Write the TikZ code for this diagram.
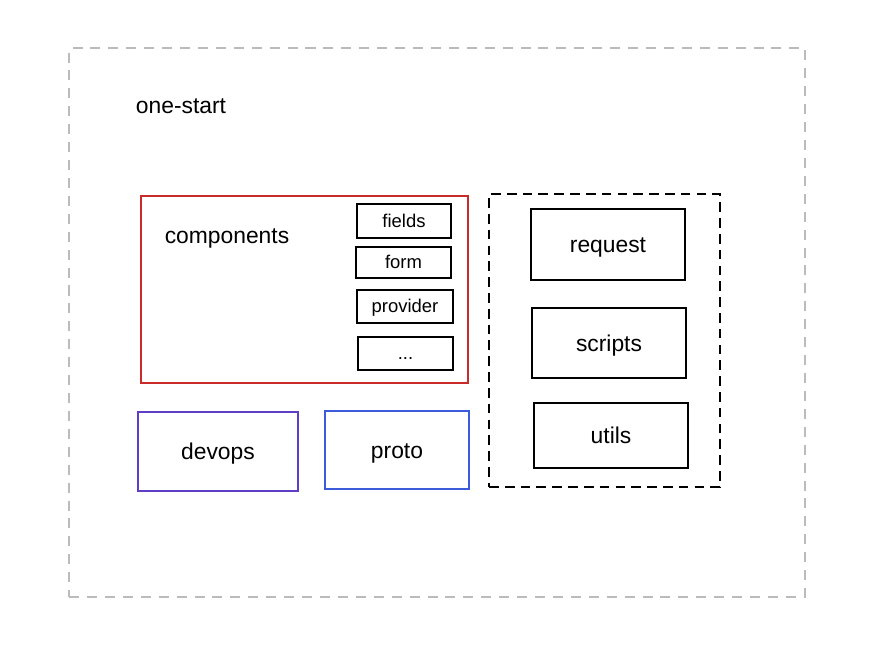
\documentclass[tikz,border=0pt]{standalone}
\usepackage{fontspec}
\setmainfont{Liberation Sans}
\usetikzlibrary{positioning}
\definecolor{mred}{HTML}{C92A2A}
\definecolor{mviolet}{HTML}{5F3DC4}
\definecolor{mblue}{HTML}{3B5BDB}
\definecolor{mgray}{HTML}{BBBBBB}
\tikzset{pkg/.style = {draw, line width=0.9pt, font=\fontsize{13}{15}\selectfont,
                       text height=2.2ex, text depth=0.45ex},
         sub/.style = {draw, line width=0.9pt, font=\fontsize{10.5}{12}\selectfont,
                       text height=1.6ex, text depth=0.3ex},
         grp/.style = {draw, line width=0.9pt, dash pattern=on 5.5pt off 3.5pt}}

\begin{document}
\begin{tikzpicture}[x=0.02cm, y=-0.02cm]
    \useasboundingbox (0, 0) rectangle (874, 648);

    \node [grp, mgray, minimum width=14.72cm, minimum height=10.98cm, dash pattern=on 5.7pt off 4.5pt] (root) at (437, 322.5) {};
    \node [font=\fontsize{13}{15}\selectfont] (rootlabel) at (181, 106) {one-start};

    \node [pkg, mred, minimum width=6.54cm, minimum height=3.74cm] (components) at (304.5, 289.5) {};
    \node [font=\fontsize{13}{15}\selectfont, text height=1.6ex, text depth=0.45ex] (complabel) at (227, 238) {components};
    \node [sub, minimum width=1.88cm, minimum height=0.68cm] (fields) at (404, 221) {fields};
    \node [sub, minimum width=1.9cm, minimum height=0.62cm] (form) at (403.5, 262.5) {form};
    \node [sub, minimum width=1.92cm, minimum height=0.66cm] (provider) at (405, 306.5) {provider};
    \node [sub, minimum width=1.9cm, minimum height=0.66cm] (more) at (405.5, 353.5) {...};

    \node [pkg, mviolet, text=black, minimum width=3.2cm, minimum height=1.58cm] (devops) at (218, 451.5) {devops};
    \node [pkg, mblue, text=black, minimum width=2.88cm, minimum height=1.56cm] (proto) at (397, 450) {proto};

    \node [grp, minimum width=4.62cm, minimum height=5.86cm] (shared) at (604.5, 340.5) {};
    \node [pkg, minimum width=3.08cm, minimum height=1.42cm] (request) at (608, 244.5) {request};
    \node [pkg, minimum width=3.08cm, minimum height=1.4cm] (scripts) at (609, 343) {scripts};
    \node [pkg, minimum width=3.08cm, minimum height=1.3cm] (utils) at (611, 435.5) {utils};
  \end{tikzpicture}
\end{document}
